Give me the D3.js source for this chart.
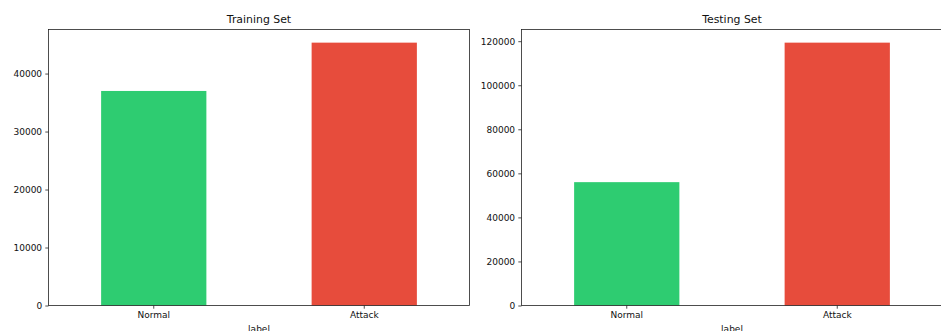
<!DOCTYPE html>
<html>
<head>
<meta charset="utf-8">
<script src="https://cdn.jsdelivr.net/npm/d3@7"></script>
<style>
  html, body { margin: 0; padding: 0; background: #fff; }
  svg { display: block; font-family: "DejaVu Sans", sans-serif; }
</style>
</head>
<body>
<svg id="chart" width="941" height="331"></svg>
<script>
// Class counts per split
const categories = ["Normal", "Attack"];
const trainCounts = [37000, 45332];
const testCounts = [56000, 119341];
const trainTicks = [0, 10000, 20000, 30000, 40000];
const testTicks = [0, 20000, 40000, 60000, 80000, 100000, 120000];
const barColors = ["#2ecc71", "#e74c3c"];

const svg = d3.select("#chart");

const panels = [
  { title: "Training Set", values: trainCounts, ticks: trainTicks, left: 48.5, right: 469.5 },
  { title: "Testing Set", values: testCounts, ticks: testTicks, left: 521.5, right: 942.5 }
];

const plotTop = 29.5, plotBottom = 305.5;

panels.forEach(p => {
  const g = svg.append("g");
  const x = d3.scaleBand().domain(categories).range([p.left, p.right]).padding(0.5).paddingOuter(0.25);
  const yMax = d3.max(p.values) * 1.05;
  const y = d3.scaleLinear().domain([0, yMax]).range([plotBottom, plotTop]);

  // bars
  g.selectAll("rect.bar").data(categories).enter().append("rect")
    .attr("class", "bar")
    .attr("x", d => x(d))
    .attr("width", x.bandwidth())
    .attr("y", (d, i) => y(p.values[i]))
    .attr("height", (d, i) => y(0) - y(p.values[i]))
    .attr("fill", (d, i) => barColors[i]);

  // frame
  g.append("rect")
    .attr("x", p.left).attr("y", plotTop)
    .attr("width", p.right - p.left).attr("height", plotBottom - plotTop)
    .attr("fill", "none").attr("stroke", "#222").attr("stroke-width", 0.8);

  // y axis
  const ya = g.append("g").attr("transform", `translate(${p.left},0)`)
    .call(d3.axisLeft(y).tickValues(p.ticks).tickFormat(d3.format("d")).tickSizeOuter(0).tickSize(3.2).tickPadding(3.2));
  ya.select(".domain").remove();
  ya.selectAll("line").attr("stroke", "#222").attr("stroke-width", 0.8);
  ya.selectAll("text").attr("font-size", "9px").attr("fill", "#111").attr("font-family", "DejaVu Sans, sans-serif");

  // x axis
  const xa = g.append("g").attr("transform", `translate(0,${plotBottom})`)
    .call(d3.axisBottom(x).tickSizeOuter(0).tickSize(3.2).tickPadding(3.2));
  xa.select(".domain").remove();
  xa.selectAll("line").attr("stroke", "#222").attr("stroke-width", 0.8);
  xa.selectAll("text").attr("font-size", "9px").attr("fill", "#111").attr("font-family", "DejaVu Sans, sans-serif");

  // x label
  g.append("text")
    .attr("x", (p.left + p.right) / 2).attr("y", 332)
    .attr("text-anchor", "middle").attr("font-size", "9px").attr("fill", "#111")
    .text("label");

  // title
  g.append("text")
    .attr("x", (p.left + p.right) / 2).attr("y", 23)
    .attr("text-anchor", "middle").attr("font-size", "10.9px").attr("fill", "#111")
    .text(p.title);
});
</script>
</body>
</html>
